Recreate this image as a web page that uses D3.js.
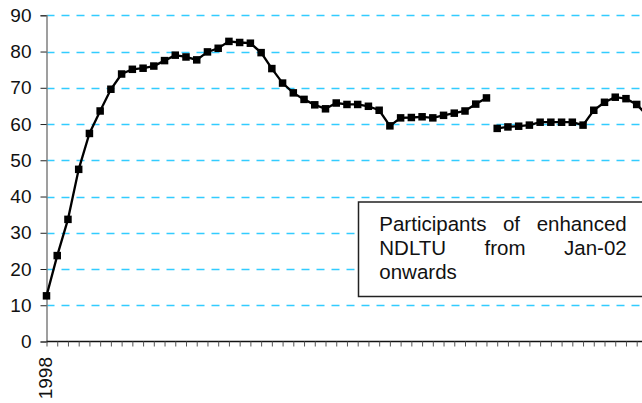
<!DOCTYPE html>
<html lang="en">
<head>
    <meta charset="UTF-8">
    <title>NDLTU participants</title>
    <script src="https://d3js.org/d3.v7.min.js"></script>
    <style>
        body { margin: 0; background: #fff; }
        svg { display: block; font-family: "Liberation Sans", Arial, sans-serif; }
    </style>
</head>
<body>
<svg id="chart" width="642" height="403"></svg>
<script>
    // monthly points, the first one is the start of 1998
    const months = d3.range(57);
    const tickLabels = ["1998"];

    // before the break (old NDLTU)
    const seriesOld = [12.6, 23.7, 33.7, 47.5, 57.4, 63.6, 69.6, 73.8, 75.1, 75.4,
                       76.0, 77.5, 79.0, 78.5, 77.7, 79.9, 80.9, 82.8, 82.5, 82.3,
                       79.7, 75.3, 71.3, 68.6, 66.8, 65.3, 64.2, 65.8, 65.4, 65.4,
                       64.9, 63.8, 59.5, 61.7, 61.8, 62.0, 61.7, 62.4, 63.0, 63.6,
                       65.5, 67.2];
    // enhanced NDLTU from Jan-02
    const seriesNew = [58.8, 59.2, 59.4, 59.7, 60.5, 60.5, 60.5, 60.5, 59.7, 63.8,
                       66.0, 67.4, 67.0, 65.4, 62.3];

    const yTicks = [0, 10, 20, 30, 40, 50, 60, 70, 80, 90];
    const noteLines = ["Participants of enhanced", "NDLTU from Jan-02", "onwards"];

    const svg = d3.select("#chart");
    const W = +svg.attr("width");

    const x = d3.scaleLinear().domain([0, 55]).range([46.5, 636.7]);
    const y = d3.scaleLinear().domain([0, 90]).range([341.5, 15.3]);

    // gridlines
    svg.append("g").selectAll("line")
        .data(yTicks.filter(d => d > 0))
        .join("line")
        .attr("x1", x(0)).attr("x2", W)
        .attr("y1", d => Math.round(y(d)) + 0.5).attr("y2", d => Math.round(y(d)) + 0.5)
        .attr("stroke", "#33ccff")
        .attr("stroke-width", 1.5)
        .attr("stroke-dasharray", "8,7");

    // y axis
    const yAxis = svg.append("g")
        .attr("transform", `translate(${x(0)},0)`)
        .call(d3.axisLeft(y).tickValues(yTicks).tickSize(6).tickPadding(9));
    yAxis.select(".domain").attr("stroke", "#808080").attr("stroke-width", 1.5);
    yAxis.selectAll(".tick line").attr("stroke", "#222");
    yAxis.selectAll("text")
        .attr("font-size", 19)
        .attr("font-family", "Liberation Sans, Arial, sans-serif")
        .attr("fill", "#111");

    // x axis
    const xAxis = svg.append("g")
        .attr("transform", `translate(0,${y(0)})`)
        .call(d3.axisBottom(x).tickValues(months.filter(d => x(d) <= W)).tickSize(5).tickFormat(""));
    xAxis.select(".domain").attr("d", `M${x(0)},0H${W}`).attr("stroke", "#111").attr("stroke-width", 1.5);
    xAxis.selectAll(".tick line").attr("stroke", "#555");

    svg.append("g").selectAll("text")
        .data(tickLabels)
        .join("text")
        .attr("transform", (d, i) => `translate(${x(i * 12) - 1},357) rotate(-90)`)
        .attr("text-anchor", "end")
        .attr("dy", "0.35em")
        .attr("font-size", 19)
        .attr("fill", "#111")
        .text(d => d);

    // lines + markers
    const line = d3.line()
        .x(d => x(d.i))
        .y(d => y(d.v));

    const series = [
        seriesOld.map((v, k) => ({ i: months[k], v: v })),
        seriesNew.map((v, k) => ({ i: months[k + seriesOld.length], v: v }))
    ];

    series.forEach(s => {
        svg.append("path")
            .datum(s)
            .attr("fill", "none")
            .attr("stroke", "#000")
            .attr("stroke-width", 2.3)
            .attr("d", line);

        svg.append("g").selectAll("rect")
            .data(s)
            .join("rect")
            .attr("x", d => x(d.i) - 3.75)
            .attr("y", d => y(d.v) - 3.75)
            .attr("width", 7.5)
            .attr("height", 7.5)
            .attr("fill", "#000");
    });

    // note box
    svg.append("rect")
        .attr("x", 358.5).attr("y", 202)
        .attr("width", 320).attr("height", 94.5)
        .attr("fill", "#fff")
        .attr("stroke", "#222")
        .attr("stroke-width", 1.5);

    const left = 379.3, right = 626.7;
    noteLines.forEach((txt, li) => {
        const base = 230.7 + li * 24.3;
        const words = txt.split(" ");
        const nodes = words.map(w => svg.append("text")
            .attr("y", base)
            .attr("font-size", 20.5)
            .attr("fill", "#111")
            .text(w));
        // last line is left aligned, the others justified
        if (li === noteLines.length - 1 || words.length === 1) {
            let cx = left;
            nodes.forEach(n => { n.attr("x", cx); cx += n.node().getComputedTextLength() + 5.5; });
            return;
        }
        const widths = nodes.map(n => n.node().getComputedTextLength());
        const gap = (right - left - d3.sum(widths)) / (words.length - 1);
        let cx = left;
        nodes.forEach((n, k) => { n.attr("x", cx); cx += widths[k] + gap; });
    });
</script>
</body>
</html>
